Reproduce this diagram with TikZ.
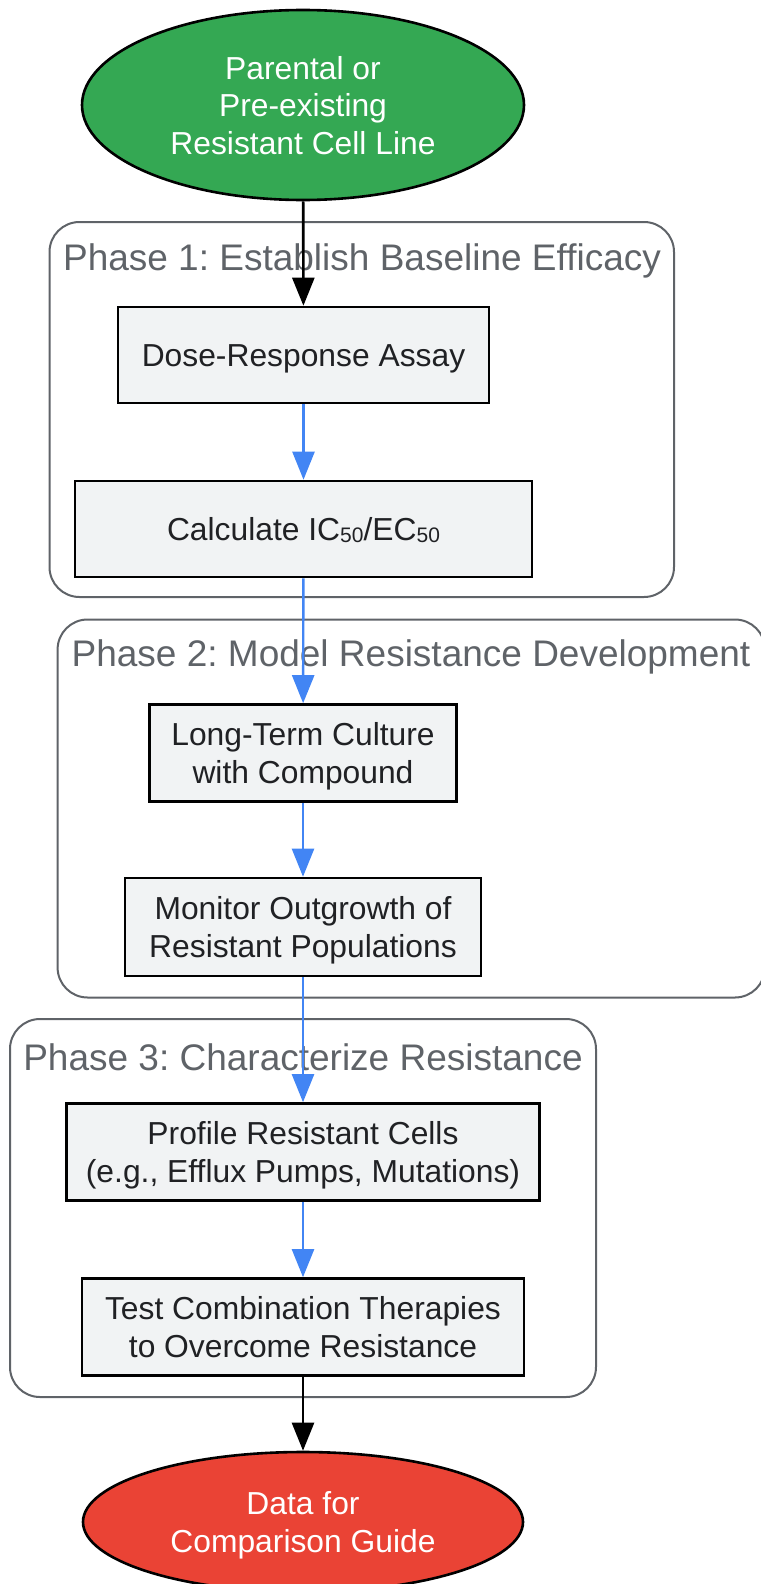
\documentclass[tikz,border=0pt]{standalone}
\usepackage{fontspec}
\setmainfont{Liberation Sans}
\usetikzlibrary{arrows.meta,shapes.geometric}
\frenchspacing
\definecolor{stepfill}{HTML}{F1F3F4}
\definecolor{phasegray}{HTML}{5F6368}
\definecolor{flowblue}{HTML}{4285F4}
\definecolor{startgreen}{HTML}{34A853}
\definecolor{endred}{HTML}{EA4335}
\definecolor{textdark}{HTML}{202124}
\newcommand{\subfifty}{\raisebox{-0.06em}{\fontsize{21}{21}\selectfont 50}}
\newcommand{\droptext}[2]{\raisebox{-#1}[\height][\depth]{\begin{tabular}{@{}c@{}}#2\end{tabular}}}
\begin{document}
\begin{tikzpicture}[x=1pt, y=-1pt,
    stepbox/.style={draw=black, line width=2.6pt, fill=stepfill, text=textdark, align=center,
        inner sep=0pt, minimum height=96pt, font=\fontsize{31.8}{37.5}\selectfont},
    terminal/.style={ellipse, draw=black, line width=2.6pt, text=white, align=center,
        inner sep=0pt, font=\fontsize{31.8}{37.5}\selectfont},
    phase/.style={draw=phasegray, line width=2pt, rounded corners=30pt},
    phasetitle/.style={text=phasegray, inner sep=0pt, font=\fontsize{37}{44}\selectfont},
    blackflow/.style={draw=black, line width=2.6pt, -{Triangle[length=28pt, width=22pt]}},
    blueflow/.style={draw=flowblue, line width=2.4pt, -{Triangle[length=28pt, width=22pt]}}]
        \useasboundingbox (0, 0) rectangle (760, 1584);
        \draw[phase] (49.5, 222) rectangle (674, 597);
        \draw[phase] (57.6, 619.5) rectangle (765, 997.5);
        \draw[phase] (10, 1019) rectangle (596, 1397);
        \node[phasetitle] (phaseone) at (362, 261) {Phase 1: Establish Baseline Efficacy};
        \node[phasetitle] (phasetwo) at (411, 657) {Phase 2: Model Resistance Development};
        \node[phasetitle] (phasethree) at (303, 1057) {Phase 3: Characterize Resistance};
        \node[terminal, fill=startgreen, minimum width=442pt, minimum height=190pt] (parental) at (303, 105) {\droptext{4.5pt}{Parental or\\Pre-existing\\Resistant Cell Line}};
        \node[stepbox, minimum width=371pt] (doseresp) at (303.5, 355) {\droptext{4pt}{Dose-Response Assay}};
        \node[stepbox, minimum width=457pt] (calcic) at (303.5, 529) {\droptext{4pt}{Calculate IC\subfifty/EC\subfifty}};
        \node[stepbox, minimum width=307pt, minimum height=97pt] (longterm) at (303, 753) {\droptext{4pt}{Long-Term Culture\\with Compound}};
        \node[stepbox, minimum width=356pt, minimum height=98pt] (monitor) at (303, 927) {\droptext{4pt}{Monitor Outgrowth of\\Resistant Populations}};
        \node[stepbox, minimum width=473pt, minimum height=97pt] (profile) at (303, 1152) {\droptext{4pt}{Profile Resistant Cells\\(e.g., Efflux Pumps, Mutations)}};
        \node[stepbox, minimum width=442pt, minimum height=97pt] (combo) at (303, 1327) {\droptext{4pt}{Test Combination Therapies\\to Overcome Resistance}};
        \node[terminal, fill=endred, minimum width=440pt, minimum height=140pt] (compdata) at (303, 1522) {\droptext{4pt}{Data for\\Comparison Guide}};
        \draw[blackflow] (parental) -- (doseresp);
        \draw[blueflow] (doseresp) -- (calcic);
        \draw[blueflow] (calcic) -- (longterm);
        \draw[blueflow] (longterm) -- (monitor);
        \draw[blueflow] (monitor) -- (profile);
        \draw[blueflow] (profile) -- (combo);
        \draw[blackflow] (combo) -- (compdata);
    \end{tikzpicture}
\end{document}
